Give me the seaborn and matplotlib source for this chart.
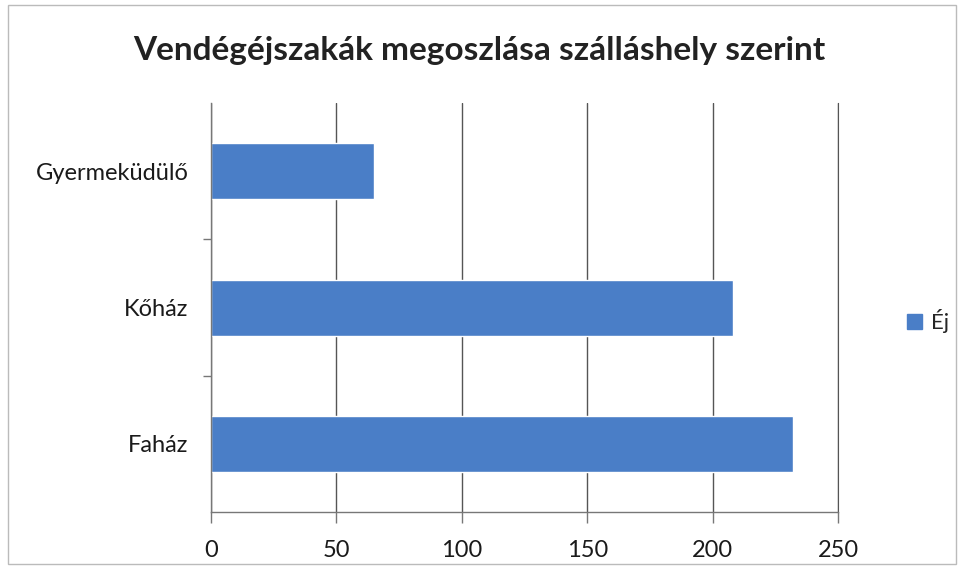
import matplotlib
matplotlib.use("Agg")
import matplotlib.pyplot as plt
import matplotlib.patches as mpatches
import numpy as np
import pandas as pd
import seaborn as sns

# data
categories = ["Gyermeküdülő", "Kőház", "Faház"]
values = [65, 208, 232]
series_name = "Éj"
x_ticks = [0, 50, 100, 150, 200, 250]

df = pd.DataFrame({"szallashely": categories, "ej": values})

sns.set_style("white")
plt.rcParams["font.family"] = ["Lato", "DejaVu Sans"]

fig = plt.figure(figsize=(9.58, 5.69), dpi=100)
ax = fig.add_axes([0.220, 0.100, 0.655, 0.719])

bar_color = "#4A7EC7"
sns.barplot(data=df, x="ej", y="szallashely", orient="h", color=bar_color,
            width=0.41, saturation=1, ax=ax)

ax.set_xlim(0, 250)
ax.set_xticks(x_ticks)
ax.set_xticklabels([str(t) for t in x_ticks], fontsize=17, color="#1a1a1a")
ax.set_ylim(2.5, -0.5)
ax.set_yticks(range(len(categories)))
ax.set_yticklabels(categories, fontsize=17, color="#1a1a1a")
ax.set_xlabel("")
ax.set_ylabel("")

# vertical grid lines
ax.grid(axis="x", color="#555555", linewidth=1)
ax.set_axisbelow(True)
ax.spines["top"].set_visible(False)
ax.spines["right"].set_color("#555555")
for s in ["left", "bottom"]:
    ax.spines[s].set_color("#777777")
    ax.spines[s].set_linewidth(1)

# ticks: major on x going down, category boundary ticks on y
ax.tick_params(axis="x", length=8, width=1, color="#777777", pad=12, direction="out", bottom=True)
ax.tick_params(axis="y", length=0, pad=16, left=True)
ax.set_yticks([0.5, 1.5], minor=True)
ax.tick_params(axis="y", which="minor", length=6, width=1, color="#777777", direction="out", left=True)

fig.text(0.5, 0.912, "Vendégéjszakák megoszlása szálláshely szerint",
         ha="center", va="center", fontsize=24, fontweight="bold", color="#222222")

handle = mpatches.Patch(color=bar_color, label=series_name)
fig.legend(handles=[handle], loc="center left", bbox_to_anchor=(0.935, 0.435),
           frameon=False, fontsize=16, handlelength=0.7, handleheight=0.7,
           handletextpad=0.4, borderpad=0)

# light frame around the chart area
fig.patches.append(mpatches.Rectangle((0.008, 0.008), 0.99, 0.984, transform=fig.transFigure,
                                      fill=False, edgecolor="#bbbbbb", linewidth=1))

fig.savefig("out.png", dpi=100)
